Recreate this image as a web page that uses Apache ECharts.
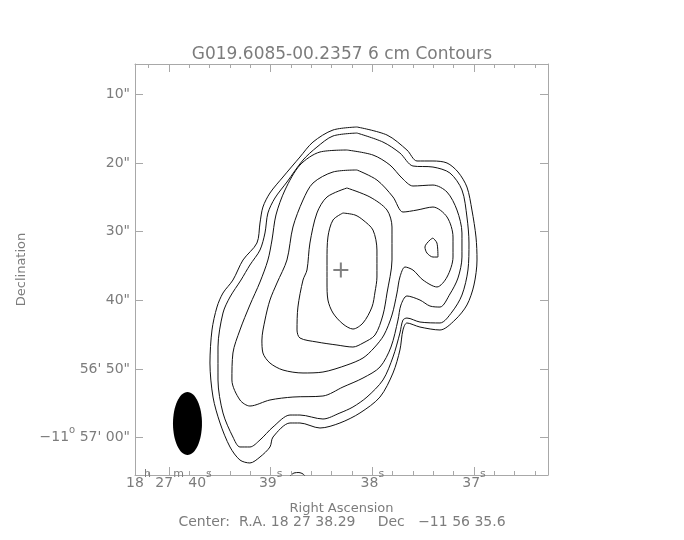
<!DOCTYPE html>
<html><head><meta charset="utf-8">
<script src="https://cdn.jsdelivr.net/npm/echarts@6/dist/echarts.min.js"></script>
<style>html,body{margin:0;padding:0;background:#fff}#c{width:684px;height:540px}</style>
</head><body><div id="c"></div>
<script>
// ---- text ----
const titleText = 'G019.6085-00.2357 6 cm Contours';
const centerText = 'Center:  R.A. 18 27 38.29     Dec   \u221211 56 35.6';
const xName = 'Right Ascension';
const yName = 'Declination';

// ---- axes (RA in seconds of time, Dec in arcsec below -11 56 00) ----
const raRange = [36.273, 40.334];
const decRange = [5.6, 65.43];
const raMajor = [40, 39, 38, 37];
const raLabels = ['18^h 27^m 40^s', '39^s', '38^s', '37^s'];
const raMinor = [40.2, 39.8, 39.6, 39.4, 39.2, 38.8, 38.6, 38.4, 38.2, 37.8, 37.6, 37.4, 37.2, 36.8, 36.6, 36.4];
const decTicks = [10, 20, 30, 40, 50, 60];
const decLabels = ['10"', '20"', '30"', '40"', '56\' 50"', '\u221211^o 57\' 00"'];

// ---- contour levels: [RA s, Dec offset arcsec] ----
const level1 = [[38.151,14.77],[37.856,15.94],[37.660,18.12],[37.561,19.72],[37.404,19.72],[37.266,20.01],[37.158,21.32],[37.070,23.51],[37.021,26.86],[36.981,30.79],[36.971,34.13],[37.001,37.77],[37.070,40.68],[37.188,42.87],[37.335,44.32],[37.532,43.89],[37.660,43.30],[37.699,44.32],[37.729,47.23],[37.797,50.58],[37.925,54.08],[38.122,56.40],[38.319,57.86],[38.515,58.59],[38.712,57.86],[38.810,57.86],[38.977,59.90],[39.007,61.35],[39.105,62.81],[39.204,63.68],[39.302,63.25],[39.400,61.35],[39.498,57.86],[39.567,54.08],[39.597,49.13],[39.577,44.32],[39.528,40.98],[39.469,38.94],[39.371,37.05],[39.272,34.13],[39.135,31.66],[39.105,28.75],[39.076,26.42],[39.007,24.38],[38.879,22.05],[38.712,19.14],[38.584,16.96],[38.387,15.21],[38.151,14.77]];
const level2 = [[38.151,15.65],[37.896,16.96],[37.729,18.56],[37.601,20.45],[37.404,20.60],[37.237,21.47],[37.119,23.94],[37.070,27.87],[37.050,31.66],[37.060,35.59],[37.119,39.23],[37.217,41.70],[37.335,43.30],[37.532,43.16],[37.660,42.58],[37.699,42.87],[37.729,44.76],[37.797,48.25],[37.896,51.60],[38.053,54.08],[38.191,55.53],[38.319,56.40],[38.486,57.28],[38.712,56.70],[38.810,56.70],[38.977,58.44],[39.105,60.33],[39.204,61.35],[39.302,61.35],[39.371,59.90],[39.469,56.40],[39.518,51.60],[39.518,46.80],[39.469,41.85],[39.400,39.52],[39.292,37.05],[39.204,34.86],[39.105,32.68],[39.056,30.20],[39.027,27.29],[38.958,25.11],[38.840,22.78],[38.682,19.58],[38.545,17.69],[38.387,16.08],[38.151,15.65]];
const level3 = [[38.250,18.12],[37.994,18.85],[37.827,20.31],[37.709,22.20],[37.601,23.36],[37.404,23.22],[37.266,24.24],[37.168,26.86],[37.119,30.20],[37.119,33.70],[37.158,36.75],[37.237,39.08],[37.335,40.98],[37.434,40.83],[37.532,39.96],[37.660,39.37],[37.719,40.68],[37.748,42.87],[37.817,46.80],[37.925,49.71],[38.092,51.31],[38.289,52.62],[38.486,53.93],[38.781,54.08],[39.007,54.51],[39.204,55.39],[39.302,54.51],[39.381,51.60],[39.371,47.67],[39.302,44.32],[39.204,40.68],[39.105,37.34],[39.027,34.13],[38.987,31.22],[38.948,27.58],[38.859,23.94],[38.712,20.31],[38.515,18.41],[38.250,18.12]];
const level4 = [[38.151,21.03],[37.955,22.49],[37.797,24.96],[37.699,27.15],[37.561,26.86],[37.404,26.42],[37.266,27.87],[37.207,30.79],[37.207,33.70],[37.266,36.61],[37.365,38.06],[37.502,37.05],[37.601,35.59],[37.679,35.15],[37.729,36.61],[37.758,38.94],[37.807,42.14],[37.886,45.05],[37.984,46.94],[38.092,48.40],[38.250,49.42],[38.486,50.44],[38.682,50.58],[38.879,50.15],[39.007,49.13],[39.076,47.67],[39.086,45.78],[39.056,42.87],[39.007,39.96],[38.938,37.48],[38.840,34.13],[38.781,29.33],[38.682,25.40],[38.584,22.93],[38.387,21.32],[38.151,21.03]];
const level5 = [[38.250,23.65],[38.024,24.96],[37.856,26.86],[37.807,29.33],[37.807,34.13],[37.856,38.94],[37.896,42.14],[37.974,45.05],[38.092,46.22],[38.191,46.80],[38.348,46.51],[38.545,46.07],[38.712,45.49],[38.741,44.32],[38.732,40.98],[38.682,37.05],[38.643,35.59],[38.614,31.66],[38.545,27.29],[38.446,24.96],[38.250,23.65]];
const level6 = [[38.289,27.29],[38.171,27.58],[38.092,28.31],[37.994,29.77],[37.955,32.68],[37.955,36.61],[37.974,38.79],[38.004,40.98],[38.092,43.30],[38.191,44.18],[38.289,43.45],[38.387,41.85],[38.437,39.96],[38.446,37.48],[38.446,34.13],[38.437,30.79],[38.387,28.31],[38.289,27.29]];
const island5 = [[37.404,30.93],[37.365,31.66],[37.355,33.70],[37.404,33.70],[37.463,33.12],[37.483,32.24],[37.434,31.22],[37.404,30.93]];
const edgeFragment = [[38.810,65.58],[38.771,65.14],[38.722,65.07],[38.682,65.28],[38.663,65.58]];

const peakPos = [[38.31, 35.6]];
const beam = [[39.818, 57.93, 0.285, 9.17]]; // centre RA, centre Dec, width (s), height (")

// ---- styling ----
const FONT = 'DejaVu Sans';
const TXT = '#7c7c7c';
const AX = '#a8a8a8';

function toRich(str) {
  const parts = str.split(/\^(.)/);
  let out = '';
  parts.forEach((p, i) => { if (p !== '') out += (i % 2 ? '{s|' : '{n|') + p + '}'; });
  return out;
}

const xRich = {
  n: {fontFamily: FONT, fontSize: 14, color: TXT, lineHeight: 14, verticalAlign: 'middle'},
  s: {fontFamily: FONT, fontSize: 11, color: TXT, lineHeight: 11, padding: [0, 0, 18, 0], verticalAlign: 'middle'}
};
const yRich = {
  n: {fontFamily: FONT, fontSize: 14, color: TXT, lineHeight: 14, verticalAlign: 'middle'},
  s: {fontFamily: FONT, fontSize: 10, color: TXT, lineHeight: 10, padding: [0, 0, 14, 0], verticalAlign: 'middle'}
};

const chart = echarts.init(document.getElementById('c'), null, {renderer: 'canvas'});

// tick marks along the RA axes (top and bottom, pointing inwards)
function raTickSeries(values, len) {
  return {
    type: 'custom', coordinateSystem: 'cartesian2d', xAxisIndex: 0, yAxisIndex: 0,
    silent: true, z: 6, clip: false,
    data: values.map(v => [v, decRange[0]]),
    renderItem: function (params, api) {
      const t = api.coord([api.value(0), decRange[0]]);
      const b = api.coord([api.value(0), decRange[1]]);
      const x = Math.floor(t[0] + 0.2) + 0.5;
      const st = {stroke: AX, lineWidth: 1, fill: null};
      return {type: 'group', children: [
        {type: 'line', shape: {x1: x, y1: t[1], x2: x, y2: t[1] + len}, style: st},
        {type: 'line', shape: {x1: x, y1: b[1], x2: x, y2: b[1] - len}, style: st}
      ]};
    }
  };
}

const contourSets = [level1, level2, level3, level4, level5, level6, island5, edgeFragment];
const series = contourSets.map(d => ({
  type: 'line', data: d, xAxisIndex: 0, yAxisIndex: 0,
  showSymbol: false, symbol: 'none', smooth: 0.3, silent: true, z: 3,
  lineStyle: {color: '#111', width: 1}
}));
series.push({
  type: 'custom', xAxisIndex: 0, yAxisIndex: 0, data: beam, silent: true, z: 4,
  renderItem: function (params, api) {
    const c = api.coord([api.value(0), api.value(1)]);
    const s = api.size([api.value(2), api.value(3)], [api.value(0), api.value(1)]);
    return {type: 'ellipse', shape: {cx: c[0], cy: c[1], rx: Math.abs(s[0]) / 2, ry: Math.abs(s[1]) / 2}, style: {fill: '#000'}};
  }
});
series.push({
  type: 'scatter', xAxisIndex: 0, yAxisIndex: 0, data: peakPos, silent: true, z: 5,
  symbol: 'path://M0,5L10,5M5,0L5,10', symbolSize: 15,
  itemStyle: {color: 'rgba(0,0,0,0)', borderColor: '#606060', borderWidth: 2}
});
series.push(raTickSeries(raMajor, 8));
series.push(raTickSeries(raMinor, 4));

const option = {
  animation: false,
  backgroundColor: '#fff',
  title: [
    {text: titleText, left: 'center', top: 41, textStyle: {fontFamily: FONT, fontSize: 17, fontWeight: 'normal', color: TXT}},
    {text: centerText, left: 'center', top: 510, textStyle: {fontFamily: FONT, fontSize: 14, fontWeight: 'normal', color: TXT}}
  ],
  grid: {left: 135, top: 64, width: 413, height: 411},
  xAxis: [
    {type: 'value', position: 'bottom', min: raRange[0], max: raRange[1], inverse: true,
     axisLine: {show: true, onZero: false, lineStyle: {color: AX}},
     axisTick: {show: false},
     axisLabel: {show: true, margin: 1, customValues: raMajor, rich: xRich,
       formatter: v => { const i = raMajor.indexOf(v); return i >= 0 ? toRich(raLabels[i]) : ''; }},
     splitLine: {show: false},
     name: xName, nameLocation: 'middle', nameGap: 25,
     nameTextStyle: {fontFamily: FONT, fontSize: 13, color: TXT}},
    {type: 'value', position: 'top', min: raRange[0], max: raRange[1], inverse: true,
     axisLine: {show: true, onZero: false, lineStyle: {color: AX}},
     axisTick: {show: false}, axisLabel: {show: false}, splitLine: {show: false}}
  ],
  yAxis: [
    {type: 'value', position: 'left', min: decRange[0], max: decRange[1], inverse: true,
     axisLine: {show: true, onZero: false, lineStyle: {color: AX}},
     axisTick: {show: true, inside: true, length: 8, lineStyle: {color: AX}, customValues: decTicks},
     axisLabel: {show: true, margin: 5, customValues: decTicks, rich: yRich,
       formatter: v => { const i = decTicks.indexOf(v); return i >= 0 ? toRich(decLabels[i]) : ''; }},
     splitLine: {show: false},
     name: yName, nameLocation: 'middle', nameGap: 97, nameRotate: 90,
     nameTextStyle: {fontFamily: FONT, fontSize: 13, color: TXT}},
    {type: 'value', position: 'right', min: decRange[0], max: decRange[1], inverse: true,
     axisLine: {show: true, onZero: false, lineStyle: {color: AX}},
     axisTick: {show: true, inside: true, length: 8, lineStyle: {color: AX}, customValues: decTicks},
     axisLabel: {show: false}, splitLine: {show: false}}
  ],
  series: series
};
chart.setOption(option);
</script>
</body></html>
